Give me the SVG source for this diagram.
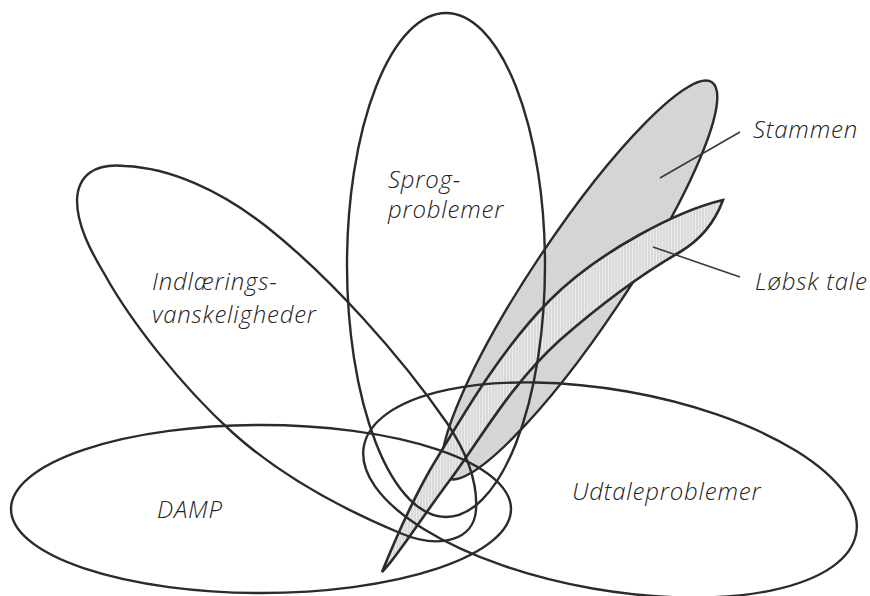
<svg xmlns="http://www.w3.org/2000/svg" width="870" height="596" viewBox="0 0 870 596">
<defs>
<pattern id="hatch" width="3" height="8" patternUnits="userSpaceOnUse">
<rect width="3" height="8" fill="#ebebeb"/>
<line x1="1" y1="0" x2="1" y2="8" stroke="#c4c4c4" stroke-width="0.9"/>
</pattern>
<style>
.o{fill:none;stroke:#2b2b2b;stroke-width:2.4;stroke-linejoin:round}
.t{font-family:"Open Sans","Noto Sans",sans-serif;font-style:italic;font-weight:300;font-size:24px;letter-spacing:0.8px;fill:#222}
.lead{stroke:#3a3a3a;stroke-width:1.6;fill:none}
</style>
</defs>
<rect width="870" height="596" fill="#ffffff"/>
<g id="stammen">
<ellipse cx="579.5" cy="280" rx="238" ry="46" transform="rotate(-56.2 579.5 280)" fill="#d5d5d5" stroke="#2b2b2b" stroke-width="2.4"/>
<text class="t" x="753" y="138">Stammen</text>
</g>
<g id="lobsk-tale">
<path d="M723,200 C680,210 600,250 550,300 C500,350 460,420 430,470 C410,505 395,540 382,572 C395,560 420,520 450,480 C480,440 510,385 560,340 C600,305 640,275 680,252 C700,240 715,222 723,200 Z" fill="url(#hatch)" stroke="#2b2b2b" stroke-width="2.6"/>
<text class="t" x="755" y="290">Løbsk tale</text>
</g>
<g id="sprogproblemer">
<ellipse class="o" cx="446" cy="265" rx="99" ry="252"/>
<text class="t" x="388" y="188">Sprog-</text>
<text class="t" x="388" y="218">problemer</text>
</g>
<g id="indlaeringsvanskeligheder">
<path class="o" d="M77,200 C78,175 95,163 125,166 C170,168 220,190 267,227 C330,277 400,355 447,423 C465,450 478,480 476,510 C474,540 440,550 400,533 C340,508 280,475 233,433 C180,385 130,320 105,275 C90,250 77,225 77,200 Z"/>
<text class="t" x="152" y="290">Indlærings-</text>
<text class="t" x="152" y="323">vanskeligheder</text>
</g>
<g id="damp">
<ellipse class="o" cx="261" cy="509" rx="250" ry="84"/>
<text class="t" x="157" y="518">DAMP</text>
</g>
<g id="udtaleproblemer">
<ellipse class="o" cx="610" cy="490" rx="250" ry="100" transform="rotate(10 610 490)"/>
<text class="t" x="572" y="500">Udtaleproblemer</text>
</g>
<g id="connectors">
<line class="lead" x1="660" y1="178" x2="740" y2="132"/>
<line class="lead" x1="653" y1="247" x2="740" y2="277"/>
</g>
</svg>
